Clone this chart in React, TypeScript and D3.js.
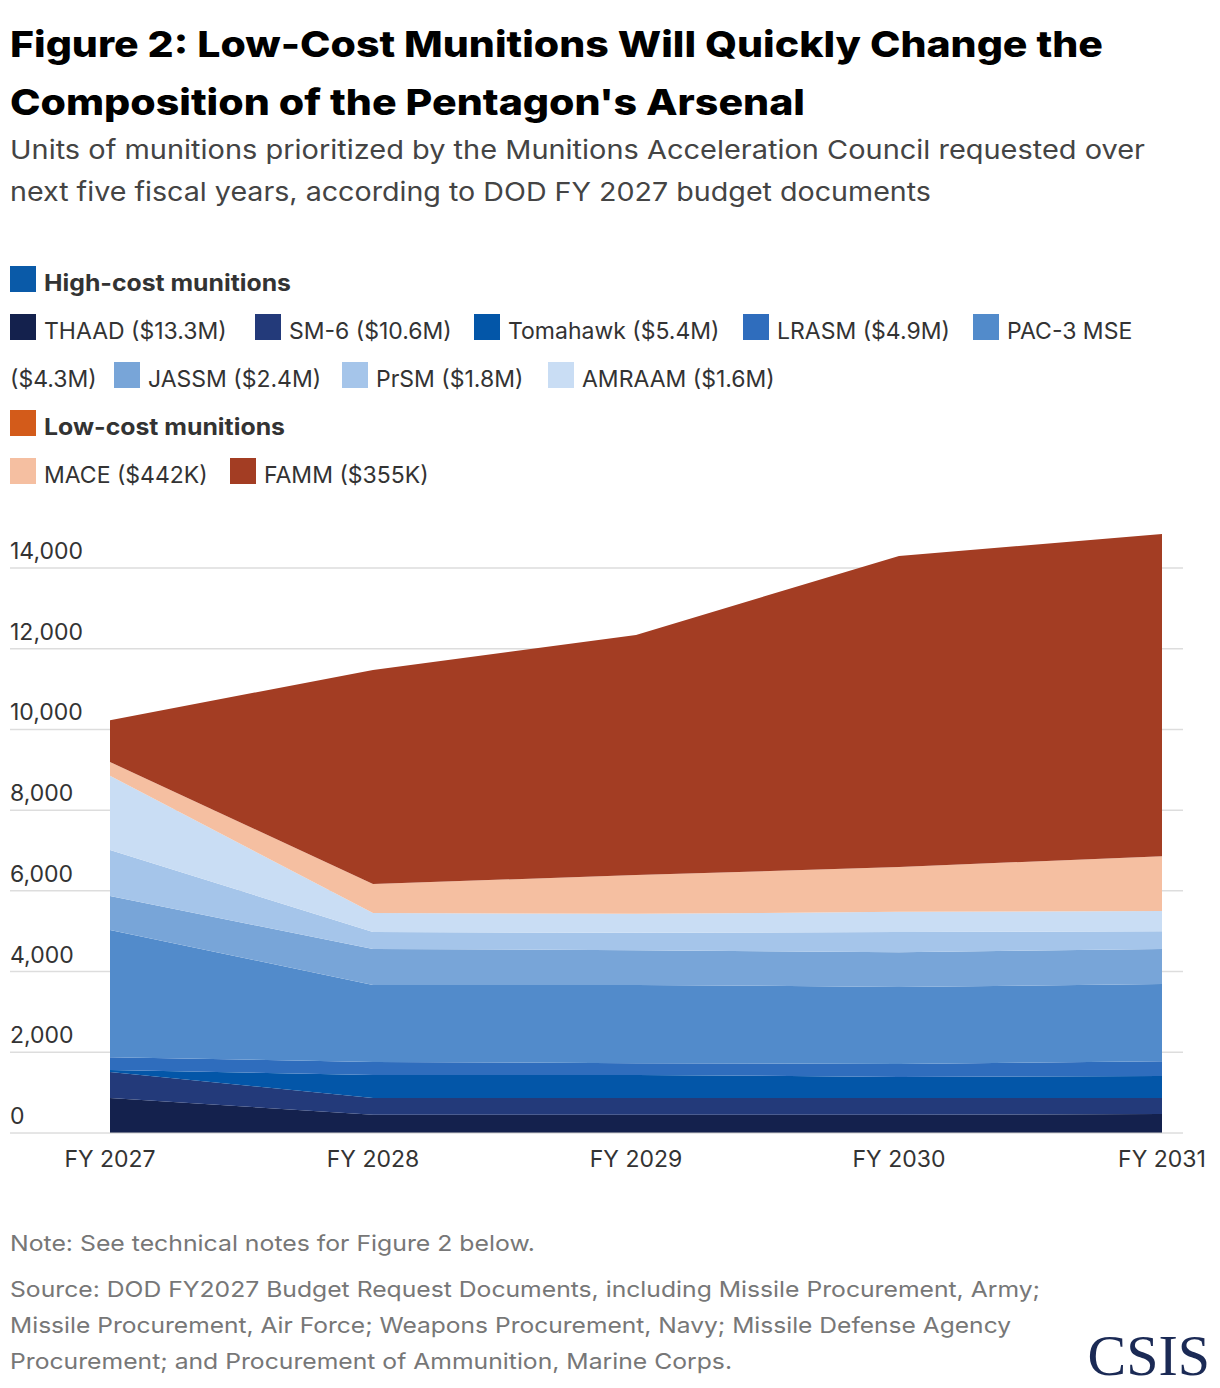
import React from "react";
import * as d3 from "d3";

const years = ["FY 2027", "FY 2028", "FY 2029", "FY 2030", "FY 2031"];
const seriesNames = ["THAAD", "SM-6", "Tomahawk", "LRASM", "PAC-3 MSE", "JASSM", "PrSM", "AMRAAM", "MACE", "FAMM"];
const THAAD = [870, 450, 450, 450, 470];
const SM6 = [640, 420, 420, 420, 400];
const Tomahawk = [50, 570, 570, 520, 540];
const LRASM = [320, 320, 290, 320, 370];
const PAC3 = [3150, 1910, 1940, 1910, 1910];
const JASSM = [840, 890, 860, 860, 870];
const PrSM = [1140, 420, 430, 500, 440];
const AMRAAM = [1840, 470, 470, 500, 500];
const MACE = [340, 720, 960, 1110, 1360];
const FAMM = [1040, 5300, 5950, 7710, 7980];
const yTicks = [0, 2000, 4000, 6000, 8000, 10000, 12000, 14000];
const colors = ["#14214d", "#233a7a", "#0356a8", "#2f6dbd", "#528bcb", "#78a5d8", "#a5c5ea", "#c9ddf4", "#f5bfa1", "#a33d23"];

const all = [THAAD, SM6, Tomahawk, LRASM, PAC3, JASSM, PrSM, AMRAAM, MACE, FAMM];
const rows = years.map((y, i) => {
  const r: any = { year: y };
  seriesNames.forEach((s, k) => (r[s] = all[k][i]));
  return r;
});

const F = "Inter, 'Noto Sans', sans-serif";

export default function App() {
  const x = d3.scalePoint().domain(years).range([110, 1162]);
  const y = d3.scaleLinear().domain([0, 14000]).range([1133, 568]);
  const stack = d3.stack().keys(seriesNames)(rows as any);
  const area = d3
    .area<any>()
    .x((d) => x(d.data.year)!)
    .y0((d) => y(d[0]))
    .y1((d) => y(d[1]));

  const legendRows: { label: string; c: string; x: number; y: number }[] = [
    { label: "THAAD ($13.3M)", c: colors[0], x: 10, y: 331 },
    { label: "SM-6 ($10.6M)", c: colors[1], x: 255, y: 331 },
    { label: "Tomahawk ($5.4M)", c: colors[2], x: 474, y: 331 },
    { label: "LRASM ($4.9M)", c: colors[3], x: 743, y: 331 },
    { label: "PAC-3 MSE", c: colors[4], x: 973, y: 331 },
    { label: "JASSM ($2.4M)", c: colors[5], x: 114, y: 379 },
    { label: "PrSM ($1.8M)", c: colors[6], x: 342, y: 379 },
    { label: "AMRAAM ($1.6M)", c: colors[7], x: 548, y: 379 },
    { label: "MACE ($442K)", c: colors[8], x: 10, y: 475 },
    { label: "FAMM ($355K)", c: colors[9], x: 230, y: 475 },
  ];

  const T = (props: any) => <text lengthAdjust="spacingAndGlyphs" {...props} />;

  return (
    <svg width={1220} height={1388} style={{ position: "absolute", left: 0, top: 0, background: "#fff" }} fontFamily={F}>
      <T x={10} y={57} fontSize={36} fontWeight={800} fill="#000" textLength={1093}>Figure 2: Low-Cost Munitions Will Quickly Change the</T>
      <T x={10} y={115} fontSize={36} fontWeight={800} fill="#000" textLength={795}>Composition of the Pentagon's Arsenal</T>
      <T x={10} y={159} fontSize={26} fill="#444" textLength={1135}>Units of munitions prioritized by the Munitions Acceleration Council requested over</T>
      <T x={10} y={201} fontSize={26} fill="#444" textLength={921}>next five fiscal years, according to DOD FY 2027 budget documents</T>

      <rect x={10} y={266} width={26} height={26} fill="#0a5aa8" />
      <T x={44} y={291} fontSize={23} fontWeight={700} fill="#333" textLength={247}>High-cost munitions</T>
      <rect x={10} y={410} width={26} height={26} fill="#d35b1a" />
      <T x={44} y={435} fontSize={23} fontWeight={700} fill="#333" textLength={241}>Low-cost munitions</T>
      <text x={10} y={387} fontSize={23} fill="#333">($4.3M)</text>
      {legendRows.map((l) => (
        <g key={l.label}>
          <rect x={l.x} y={l.y - 17} width={26} height={26} fill={l.c} />
          <text x={l.x + 34} y={l.y + 8} fontSize={23} fill="#333">{l.label}</text>
        </g>
      ))}

      {yTicks.map((t) => (
        <g key={t}>
          {t > 0 && <line x1={10} x2={1183} y1={y(t)} y2={y(t)} stroke="#ddd" strokeWidth={1.5} />}
          <text x={10} y={y(t) - 9} fontSize={23} fill="#333">{d3.format(",")(t)}</text>
        </g>
      ))}
      {stack.map((s, i) => (
        <path key={s.key} d={area(s as any)!} fill={colors[i]} />
      ))}
      <line x1={10} x2={1183} y1={y(0)} y2={y(0)} stroke="#ccc" strokeWidth={1} />
      {years.map((yr) => (
        <text key={yr} x={x(yr)} y={1167} fontSize={23} fill="#333" textAnchor="middle">{yr}</text>
      ))}

      <T x={10} y={1251} fontSize={22} fill="#777" textLength={525}>Note: See technical notes for Figure 2 below.</T>
      <T x={10} y={1297} fontSize={22} fill="#777" textLength={1030}>Source: DOD FY2027 Budget Request Documents, including Missile Procurement, Army;</T>
      <T x={10} y={1333} fontSize={22} fill="#777" textLength={1001}>Missile Procurement, Air Force; Weapons Procurement, Navy; Missile Defense Agency</T>
      <T x={10} y={1369} fontSize={22} fill="#777" textLength={722}>Procurement; and Procurement of Ammunition, Marine Corps.</T>
      <text x={1210} y={1375} fontSize={58} fill="#1b2a55" textAnchor="end" fontFamily="'Liberation Serif', serif">CSIS</text>
    </svg>
  );
}
